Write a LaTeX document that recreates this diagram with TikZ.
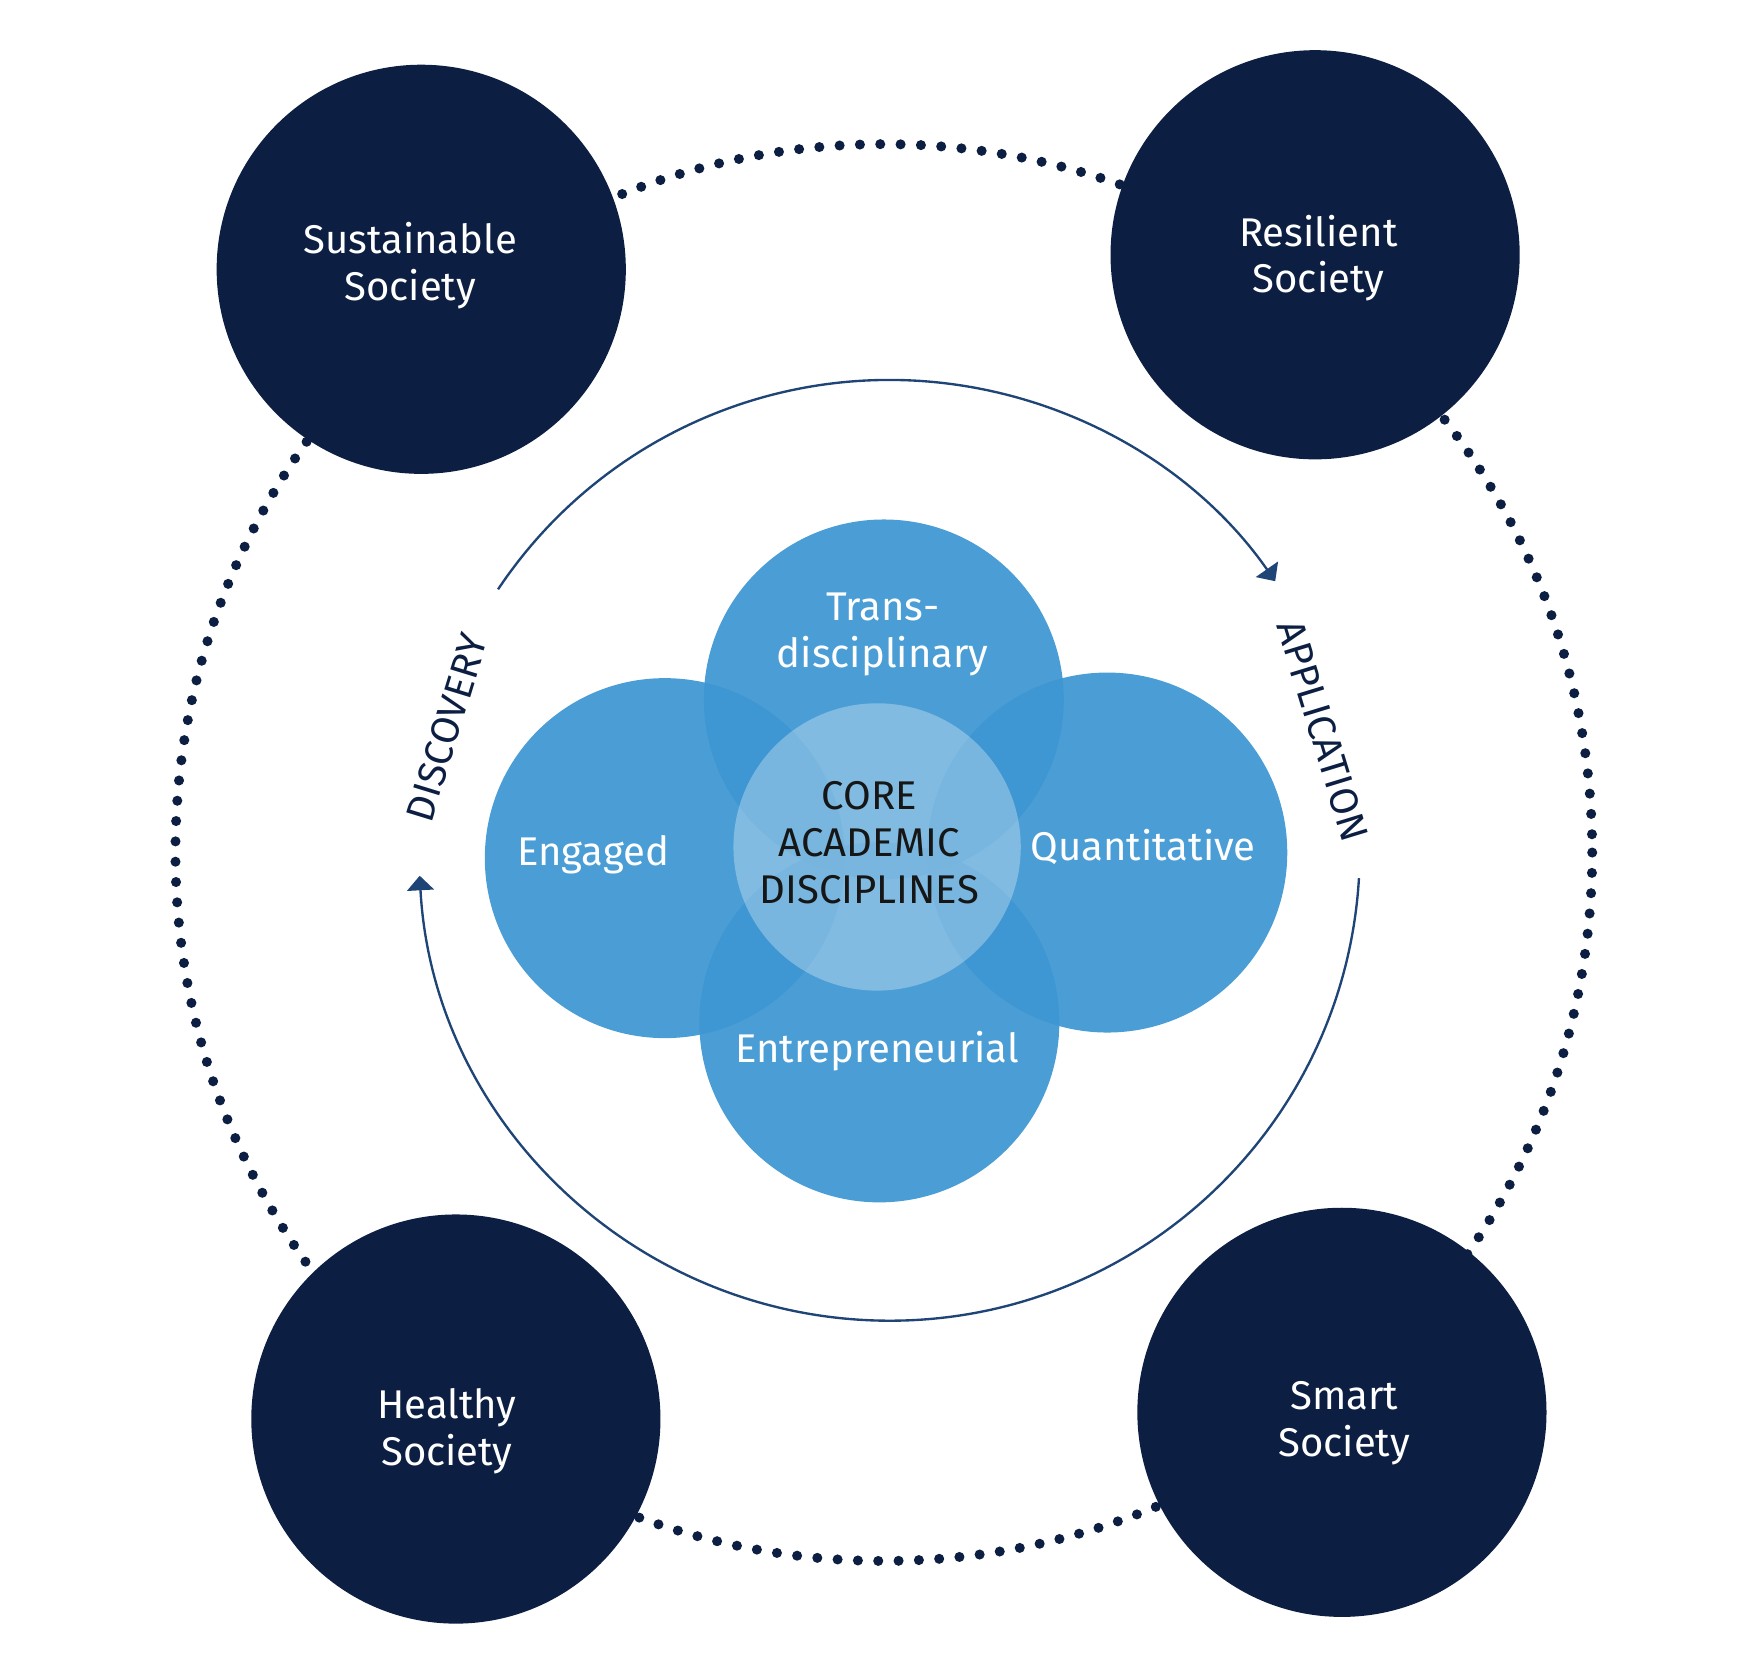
\documentclass[tikz,border=0pt]{standalone}
\usepackage{fontspec}
\setmainfont{Fira Sans}
\usetikzlibrary{arrows.meta}
\definecolor{navy}{HTML}{0C1F43}
\definecolor{fieldblue}{RGB}{61,150,210}
\definecolor{arcblue}{HTML}{1F4577}
\definecolor{coretext}{HTML}{161616}

\begin{document}
\begin{tikzpicture}[x=0.01cm, y=-0.01cm,
	society/.style={circle, fill=navy, minimum size=3.66cm, inner sep=0pt},
	field/.style={circle, fill=fieldblue, fill opacity=.93, minimum size=3.22cm, inner sep=0pt},
	whitetext/.style={text=white, align=center, inner sep=0pt, font=\fontsize{10.2}{11.9}\selectfont},
	cycletext/.style={text=navy, inner sep=0pt, font=\fontsize{10}{12}\selectfont},
	cycle/.style={draw=arcblue, line width=.6pt, -{Triangle[length=1.3mm, width=2.4mm]}}]
	\useasboundingbox (0,0) rectangle (1568,1496);
	% dotted ring behind the four societies
	\draw[navy, line width=.09cm, line cap=round, dash pattern=on 0pt off 0.1819cm] (791,763) circle[radius=634];
	\draw (377,241)  node[society] (sus) {};
	\draw (1177,228) node[society] (res) {};
	\draw (408,1270) node[society] (hea) {};
	\draw (1201,1264) node[society] (sma) {};
	\draw (367,238)  node[whitetext] (sus text) {Sustainable\\Society};
	\draw (1180,231) node[whitetext] (res text) {Resilient\\Society};
	\draw (400,1281) node[whitetext] (hea text) {Healthy\\Society};
	\draw (1203,1274) node[whitetext] (sma text) {Smart\\Society};
	% discovery / application cycle
	\coordinate (hub) at (796,761);
	\draw[cycle] (hub) ++(-146.3:421) arc[start angle=-146.3, end angle=-34.9, radius=421];
	\draw[cycle] (hub) ++(3.4:421) arc[start angle=3.4, end angle=176.9, radius=421];
	\draw (400,651)  node[cycletext, rotate=73] (disc) {DISCOVERY};
	\draw (1184,654) node[cycletext, rotate=-73] (appl) {APPLICATION};
	% the four fields and the core
	\draw (791,626) node[field] (trans) {};
	\draw (595,768) node[field] (eng) {};
	\draw (991,763) node[field] (quant) {};
	\draw (787,915) node[field] (entre) {};
	\draw (785,758) node[circle, fill=white, fill opacity=.3, minimum size=2.57cm, inner sep=0pt] (core) {};
	\draw (790,568) node[whitetext] (trans text) {Trans-\\disciplinary};
	\draw (531,765) node[whitetext] (eng text) {Engaged};
	\draw (1023,758) node[whitetext] (quant text) {Quantitative};
	\draw (785,941) node[whitetext] (entre text) {Entrepreneurial};
	\draw (778,754) node[whitetext, text=coretext] (core text) {CORE\\ACADEMIC\\DISCIPLINES};
\end{tikzpicture}
\end{document}
